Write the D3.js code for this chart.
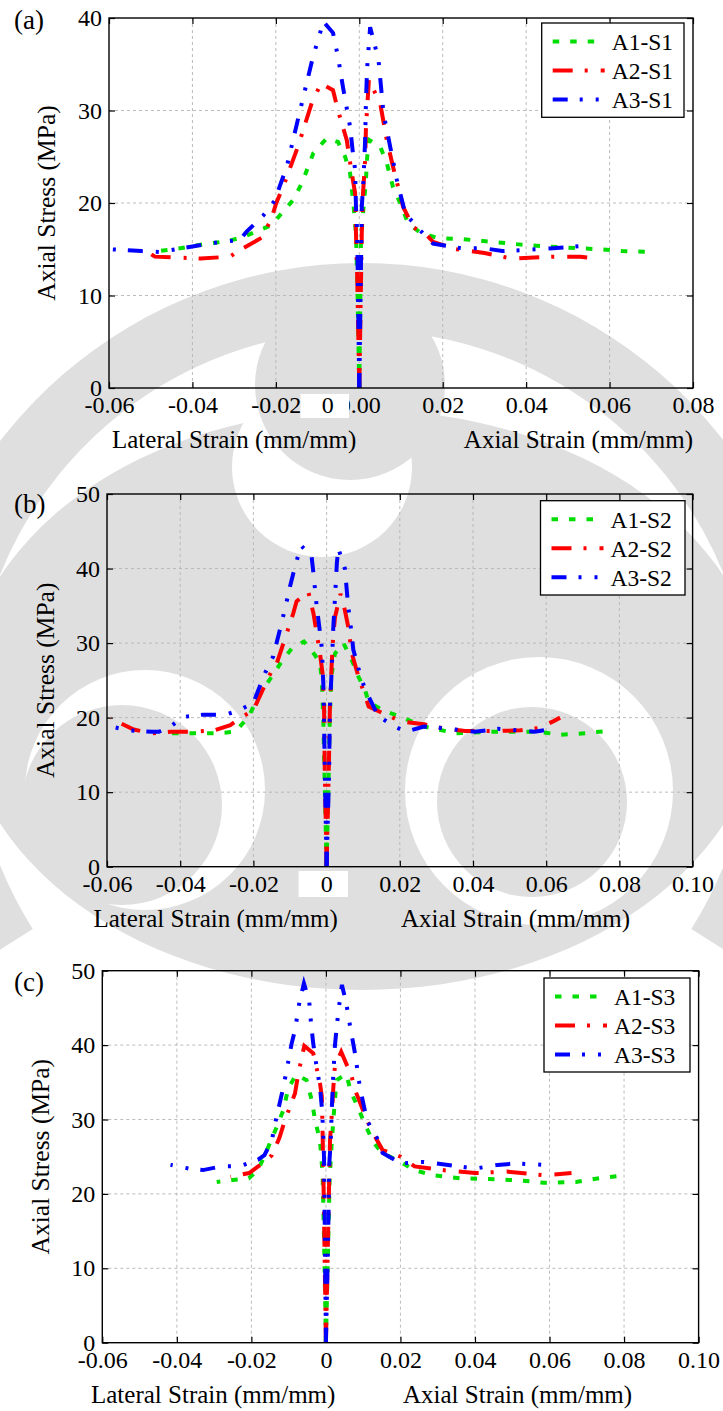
<!DOCTYPE html>
<html>
<head>
<meta charset="utf-8">
<script src="https://cdn.jsdelivr.net/npm/d3@7"></script>
<style>
  body { margin: 0; background: #fff; }
  svg { display: block; }
</style>
</head>
<body>
<script>
const width = 723,
  height = 1411;

// ---- data (strain mm/mm, stress MPa) ----
const legendA = ['A1-S1', 'A2-S1', 'A3-S1'];
const legendB = ['A1-S2', 'A2-S2', 'A3-S2'];
const legendC = ['A1-S3', 'A2-S3', 'A3-S3'];

const xTicksA = [-0.06, -0.04, -0.02, 0, 0.02, 0.04, 0.06, 0.08];
const xLabelsA = ['-0.06', '-0.04', '-0.02', '0.00', '0.02', '0.04', '0.06', '0.08'];
const yTicksA = [0, 10, 20, 30, 40];
const xTicksBC = [-0.06, -0.04, -0.02, 0, 0.02, 0.04, 0.06, 0.08, 0.1];
const xLabelsBC = ['-0.06', '-0.04', '-0.02', '0', '0.02', '0.04', '0.06', '0.08', '0.10'];
const yTicksBC = [0, 10, 20, 30, 40, 50];

// panel (a)
const a1s1Lat = [[0,0],[-0.0004,10],[-0.0008,16.8],[-0.0015,20.3],[-0.0022,23.2],[-0.0034,25],[-0.0051,26.6],[-0.0078,27],[-0.011,25.4],[-0.0138,22.1],[-0.0159,20.3],[-0.0186,18.9],[-0.021,17.6],[-0.0238,17.1],[-0.028,16.3],[-0.0315,15.9],[-0.0394,15.4],[-0.043,15.1],[-0.048,14.8]];
const a1s1Ax = [[0,0],[0.0004,16],[0.0009,18.9],[0.0016,22.5],[0.0019,25],[0.0024,26.8],[0.005,26.1],[0.0066,24.3],[0.0081,21.7],[0.0098,20],[0.0117,17.8],[0.0146,16.8],[0.0188,16.2],[0.0244,16.1],[0.032,15.8],[0.0388,15.5],[0.0453,15.3],[0.053,15.1],[0.0575,15],[0.063,14.8],[0.07,14.7]];
const a2s1Lat = [[0,0],[-0.0005,12],[-0.0008,16.8],[-0.001,21.1],[-0.0018,23.2],[-0.003,26.8],[-0.0051,30],[-0.0063,32.2],[-0.0092,32.9],[-0.0114,30.8],[-0.0147,26.1],[-0.0183,21.7],[-0.0199,20],[-0.021,18.4],[-0.0232,16.3],[-0.0286,14.9],[-0.031,14.2],[-0.038,14],[-0.044,14.1],[-0.049,14.2],[-0.05,14.5]];
const a2s1Ax = [[0,0],[0.0006,16.8],[0.0009,21.1],[0.0014,24.6],[0.0016,28.2],[0.0023,33.3],[0.005,30.8],[0.0066,26.8],[0.0081,23.9],[0.0105,19.6],[0.0129,17.4],[0.0162,16.5],[0.0177,15.8],[0.0232,15],[0.03,14.6],[0.0365,14],[0.0465,14.2],[0.053,14.2],[0.0564,14]];
const a3s1Lat = [[0,0],[-0.0005,16.8],[-0.0008,19.6],[-0.001,23.6],[-0.0016,25.7],[-0.0022,28.2],[-0.0039,32.5],[-0.0051,35.8],[-0.0063,38.4],[-0.0086,39.6],[-0.0111,35.8],[-0.0142,30],[-0.0174,23.9],[-0.019,21.9],[-0.0202,20.3],[-0.0231,18.6],[-0.027,16.9],[-0.0287,16],[-0.0346,15.7],[-0.0426,15.1],[-0.0478,14.7],[-0.0522,14.8],[-0.0597,15]];
const a3s1Ax = [[0,0],[0.0006,19.6],[0.001,22.5],[0.0014,26.8],[0.0016,31.1],[0.0019,34.7],[0.0026,39],[0.0046,35.5],[0.0058,29.7],[0.0074,26.1],[0.009,22.5],[0.011,18.9],[0.0138,17.4],[0.0162,16.3],[0.0177,15.6],[0.0244,15.1],[0.03,15.1],[0.0343,14.8],[0.0388,14.9],[0.0465,15.1],[0.055,15.4]];

// panel (b)
const a1s2Lat = [[0,0],[-0.0006,13],[-0.0009,19.7],[-0.0013,25],[-0.0018,27.3],[-0.0032,28.4],[-0.0062,30.2],[-0.0095,29.3],[-0.0123,27.5],[-0.015,25.5],[-0.0187,22.8],[-0.0213,20.1],[-0.025,18.1],[-0.03,17.9],[-0.0364,17.9],[-0.0427,17.9],[-0.0447,18]];
const a1s2Ax = [[0,0],[0.0006,13],[0.0009,20.5],[0.0014,25.9],[0.0023,28.6],[0.0046,30],[0.0069,27.7],[0.0087,25.5],[0.0105,23.7],[0.0115,22.1],[0.0153,21],[0.0203,20.1],[0.0266,18.8],[0.0354,17.9],[0.0442,18.1],[0.0505,18.1],[0.058,18.1],[0.0638,17.7],[0.0707,17.9],[0.0782,18.3]];
const a2s2Lat = [[0,0],[-0.0005,13],[-0.0007,21.5],[-0.0011,25.9],[-0.0018,28.6],[-0.0027,31.3],[-0.0036,34],[-0.005,36.9],[-0.0082,35.6],[-0.0091,34],[-0.0109,31.3],[-0.0136,27.3],[-0.0149,26.4],[-0.0175,23.7],[-0.02,21],[-0.0231,20.1],[-0.0263,19],[-0.0307,18.3],[-0.0364,18.1],[-0.0427,18.1],[-0.0477,17.9],[-0.0527,18.4],[-0.059,19.9]];
const a2s2Ax = [[0,0],[0.0006,13],[0.0009,21.5],[0.0014,27.3],[0.0018,30.9],[0.0023,33.5],[0.0038,36.6],[0.005,34.4],[0.0059,32.2],[0.0069,28.6],[0.0087,25.5],[0.0115,21.5],[0.0153,20.6],[0.0203,19.5],[0.0266,19.1],[0.0316,18.6],[0.0379,18.2],[0.0467,18.2],[0.053,18.3],[0.058,18.6],[0.0619,19.5],[0.0638,20]];
const a3s2Lat = [[0,0],[-0.0005,13],[-0.0007,19.7],[-0.0009,24.6],[-0.0013,29.3],[-0.002,32.2],[-0.0027,34.9],[-0.0036,39.4],[-0.0041,41.6],[-0.007,43.1],[-0.0086,40.3],[-0.01,37.6],[-0.0109,35.6],[-0.0123,32.7],[-0.0146,28.2],[-0.0168,26],[-0.02,22],[-0.0238,21],[-0.0275,20.4],[-0.0338,20.4],[-0.039,20.1],[-0.0427,18.8],[-0.0458,18.1],[-0.0477,18.1],[-0.054,18.3],[-0.059,18.8]];
const a3s2Ax = [[0,0],[0.0007,13],[0.0009,21.5],[0.0014,26.4],[0.0018,31.8],[0.0023,36.2],[0.0028,40.7],[0.0032,42.7],[0.005,40],[0.0059,34.9],[0.0066,32.2],[0.0073,29.1],[0.0096,25],[0.011,23.3],[0.014,20.3],[0.0178,19],[0.0216,18.1],[0.0266,18.8],[0.0316,18.6],[0.0405,18.1],[0.0468,18.5],[0.0518,18.3],[0.0568,18.1],[0.0594,18.3]];

// panel (c)
const a1s3Lat = [[0,0],[-0.0005,14],[-0.0009,22.8],[-0.0016,27.2],[-0.0029,29.9],[-0.0038,32.6],[-0.0052,35.3],[-0.008,36],[-0.0101,34.2],[-0.0114,31.3],[-0.0132,29],[-0.0158,25.9],[-0.0182,23.2],[-0.0207,22.1],[-0.0244,21.9],[-0.0293,21.6]];
const a1s3Ax = [[0,0],[0.0006,13],[0.001,22],[0.0016,27.2],[0.002,29.9],[0.0024,32.6],[0.0029,35.3],[0.0054,36.1],[0.0069,33.5],[0.0087,31.5],[0.0105,29.3],[0.0127,27],[0.015,25.5],[0.0189,24.6],[0.0238,23.2],[0.0287,22.5],[0.0362,22.1],[0.0436,22],[0.0523,21.8],[0.0585,21.5],[0.0671,21.6],[0.0733,22.1],[0.0801,22.5]];
const a2s3Lat = [[0,0],[-0.0006,20],[-0.0009,28.6],[-0.0011,33.1],[-0.0016,34.9],[-0.0034,38.9],[-0.0058,39.9],[-0.0074,36.2],[-0.0083,33.5],[-0.011,29.9],[-0.0125,27.5],[-0.0145,25.2],[-0.0165,24.2],[-0.0182,23.7],[-0.0206,22.8],[-0.0256,22.3]];
const a2s3Ax = [[0,0],[0.0008,20],[0.0011,27.2],[0.0016,30.8],[0.002,34.4],[0.0024,37.1],[0.0041,39.1],[0.0069,35.8],[0.0078,34],[0.011,29.9],[0.0132,27.7],[0.0152,25.9],[0.0201,25],[0.0238,23.7],[0.0313,23.2],[0.04,22.8],[0.0486,23],[0.0585,22.5],[0.0659,22.8]];
const a3s3Lat = [[0,0],[-0.0003,15],[-0.0005,24.6],[-0.0007,28.1],[-0.0011,31.7],[-0.0016,34.4],[-0.0025,37.1],[-0.0034,40.2],[-0.004,43],[-0.0045,46],[-0.0059,48.3],[-0.0071,45.8],[-0.0083,42],[-0.0092,40.2],[-0.0105,36.7],[-0.0114,34.4],[-0.0137,29.3],[-0.0145,27.2],[-0.0165,25.2],[-0.0182,24.6],[-0.0232,23.7],[-0.0281,23.7],[-0.033,23.2],[-0.0367,23.4],[-0.0417,23.9]];
const a3s3Ax = [[0,0],[0.0006,14],[0.0009,24],[0.0013,27.2],[0.0016,31.7],[0.002,36.2],[0.0024,39.8],[0.0029,42.5],[0.0036,45.5],[0.0043,48.1],[0.0055,45.5],[0.0065,42.5],[0.0078,38.9],[0.0091,34.4],[0.011,29.9],[0.0145,26.8],[0.0152,25.5],[0.0201,24.1],[0.0263,24.3],[0.0313,24],[0.04,23.4],[0.0461,23.9],[0.051,24.1],[0.0585,23.9]];

// line styles for A1, A2, A3
const colors = ['#00dd00', '#ff0000', '#0000ff'];
const dashes = ['6.5,11', '20,12,3,13', '15,12,3,13,3,13'];
const serif = '"Liberation Serif", "Times New Roman", Times, serif';
const wmGray = '#dfdfdf';

const svg = d3.select('body').append('svg').attr('width', width).attr('height', height);
svg.append('rect').attr('width', width).attr('height', height).attr('fill', '#fff');

// faint logo watermark behind the figure
const wm = svg.append('g');
// outer ring, upper part only
wm.append('path')
  .attr('transform', 'translate(362,720)')
  .attr('d', d3.arc().innerRadius(390).outerRadius(457).startAngle(-0.68 * Math.PI).endAngle(0.68 * Math.PI)())
  .attr('fill', wmGray);
// inner body
wm.append('ellipse').attr('cx', 362).attr('cy', 700).attr('rx', 400).attr('ry', 290).attr('fill', wmGray);
[[322, 467, 90], [145, 790, 120], [539, 791, 134]].forEach(([cx, cy, r]) =>
  wm.append('circle').attr('cx', cx).attr('cy', cy).attr('r', r).attr('fill', '#fff'));
[[350, 385, 95], [122, 805, 100], [532, 802, 95]].forEach(([cx, cy, r]) =>
  wm.append('circle').attr('cx', cx).attr('cy', cy).attr('r', r).attr('fill', wmGray));

const panels = [
  {
    tag: '(a)', tagY: 29, box: [109, 693, 18, 388], xDomain: [-0.06, 0.08], yMax: 40,
    xTicks: xTicksA, xLabels: xLabelsA, yTicks: yTicksA, names: legendA,
    series: [[a1s1Lat, a1s1Ax], [a2s1Lat, a2s1Ax], [a3s1Lat, a3s1Ax]],
    legend: [541.7, 23, 142.3, 94.3], yTitleX: 47, latX: 112, axX: 693, axAnchor: 'end',
    patch: [300.5, 394, 48.5, 24, 327.7],
  },
  {
    tag: '(b)', tagY: 513, box: [107, 692.6, 494, 866.7], xDomain: [-0.06, 0.1], yMax: 50,
    xTicks: xTicksBC, xLabels: xLabelsBC, yTicks: yTicksBC, names: legendB,
    series: [[a1s2Lat, a1s2Ax], [a2s2Lat, a2s2Ax], [a3s2Lat, a3s2Ax]],
    legend: [540.5, 500.7, 144.5, 94.3], yTitleX: 46, latX: 93.5, axX: 401, axAnchor: 'start',
    patch: [298.6, 871, 49.4, 26, 326.7],
  },
  {
    tag: '(c)', tagY: 991, box: [102.3, 698.6, 970.7, 1342.7], xDomain: [-0.06, 0.1], yMax: 50,
    xTicks: xTicksBC, xLabels: xLabelsBC, yTicks: yTicksBC, names: legendC,
    series: [[a1s3Lat, a1s3Ax], [a2s3Lat, a2s3Ax], [a3s3Lat, a3s3Ax]],
    legend: [544, 978, 146, 94], yTitleX: 41.5, latX: 91, axX: 403, axAnchor: 'start',
    tagPatch: [0, 953, 70.5, 54],
  },
];

panels.forEach(drawPanel);

function drawPanel(p) {
  const [x0, x1, y0, y1] = p.box;
  const x = d3.scaleLinear().domain(p.xDomain).range([x0, x1]);
  const y = d3.scaleLinear().domain([0, p.yMax]).range([y1, y0]);
  const g = svg.append('g');

  if (p.tagPatch) {
    const [rx, ry, rw, rh] = p.tagPatch;
    g.append('rect').attr('x', rx).attr('y', ry).attr('width', rw).attr('height', rh).attr('fill', '#fff');
  }

  // dashed grid
  const grid = g.append('g').attr('stroke', '#b4b4b4').attr('stroke-width', 0.9).attr('stroke-dasharray', '3,3');
  grid.selectAll('.gx').data(p.xTicks.slice(1, -1)).join('line')
    .attr('x1', (d) => x(d)).attr('x2', (d) => x(d)).attr('y1', y0).attr('y2', y1);
  grid.selectAll('.gy').data(p.yTicks.slice(1, -1)).join('line')
    .attr('x1', x0).attr('x2', x1).attr('y1', (d) => y(d)).attr('y2', (d) => y(d));

  // inward ticks on all four sides
  const styleAxis = (sel) => {
    sel.select('.domain').remove();
    sel.attr('font-family', serif).attr('font-size', 24);
    sel.selectAll('text').attr('fill', '#000');
    sel.selectAll('line').attr('stroke', '#000').attr('stroke-width', 1.2);
  };
  g.append('g').attr('transform', `translate(0,${y1})`)
    .call(d3.axisBottom(x).tickValues(p.xTicks).tickFormat((d, i) => p.xLabels[i]).tickSize(-6).tickPadding(8))
    .call(styleAxis);
  g.append('g').attr('transform', `translate(${x0},0)`)
    .call(d3.axisLeft(y).tickValues(p.yTicks).tickFormat(d3.format('d')).tickSize(-6).tickPadding(7))
    .call(styleAxis);
  g.append('g').attr('transform', `translate(0,${y0})`)
    .call(d3.axisTop(x).tickValues(p.xTicks).tickFormat('').tickSize(-6))
    .call(styleAxis);
  g.append('g').attr('transform', `translate(${x1},0)`)
    .call(d3.axisRight(y).tickValues(p.yTicks).tickFormat('').tickSize(-6))
    .call(styleAxis);

  // white patch over the zero tick label, with a plain "0" on it
  if (p.patch) {
    const [rx, ry, rw, rh, tx] = p.patch;
    g.append('rect').attr('x', rx).attr('y', ry).attr('width', rw).attr('height', rh).attr('fill', '#fff');
    g.append('text').attr('x', tx).attr('y', y1 + 25).attr('text-anchor', 'middle')
      .attr('font-family', serif).attr('font-size', 24).text('0');
  }

  // curves: lateral branch (negative strain) and axial branch
  const line = d3.line().x((d) => x(d[0])).y((d) => y(d[1]));
  p.series.forEach((pair, i) => {
    pair.forEach((pts) => {
      g.append('path').datum(pts)
        .attr('d', line)
        .attr('fill', 'none')
        .attr('stroke', colors[i])
        .attr('stroke-width', 4)
        .attr('stroke-dasharray', dashes[i]);
    });
  });

  // frame
  g.append('rect').attr('x', x0).attr('y', y0).attr('width', x1 - x0).attr('height', y1 - y0)
    .attr('fill', 'none').attr('stroke', '#000').attr('stroke-width', 1.4);

  // legend
  const [lx, ly, lw, lh] = p.legend;
  const lg = g.append('g');
  lg.append('rect').attr('x', lx).attr('y', ly).attr('width', lw).attr('height', lh)
    .attr('fill', '#fff').attr('stroke', '#000').attr('stroke-width', 1.3);
  p.names.forEach((name, i) => {
    const ry = ly + 18.5 + i * 29;
    lg.append('line').attr('x1', lx + 11).attr('x2', lx + 63).attr('y1', ry).attr('y2', ry)
      .attr('stroke', colors[i]).attr('stroke-width', 4).attr('stroke-dasharray', dashes[i]);
    lg.append('text').attr('x', lx + 70).attr('y', ry + 8.5)
      .attr('font-family', serif).attr('font-size', 23.5).text(name);
  });

  // titles
  g.append('text').attr('x', 14).attr('y', p.tagY).attr('font-family', serif).attr('font-size', 27).text(p.tag);
  g.append('text')
    .attr('transform', `translate(${p.yTitleX},${(y0 + y1) / 2}) rotate(-90)`)
    .attr('text-anchor', 'middle').attr('dy', '0.3em')
    .attr('font-family', serif).attr('font-size', 25.5)
    .text('Axial Stress (MPa)');
  g.append('text').attr('x', p.latX).attr('y', y1 + 60)
    .attr('font-family', serif).attr('font-size', 25)
    .text('Lateral Strain (mm/mm)');
  g.append('text').attr('x', p.axX).attr('y', y1 + 60).attr('text-anchor', p.axAnchor)
    .attr('font-family', serif).attr('font-size', 25)
    .text('Axial Strain (mm/mm)');
}
</script>
</body>
</html>
